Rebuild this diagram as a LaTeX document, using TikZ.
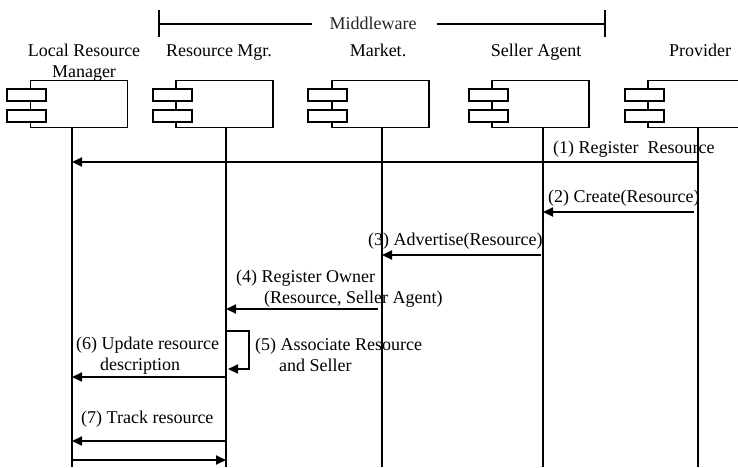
\documentclass[tikz,border=0pt]{standalone}
\usepackage{fontspec}
\setmainfont{Liberation Serif}
\usetikzlibrary{arrows.meta}
\begin{document}
\begin{tikzpicture}[x=1pt,y=-1pt,
  comp/.style={draw, line width=1.2pt, minimum width=97pt, minimum height=47pt, inner sep=0pt},
  port/.style={draw, line width=1.2pt, fill=white, minimum width=39pt, minimum height=12pt, inner sep=0pt},
  life/.style={line width=1.6pt},
  msg/.style={line width=2pt, -{Triangle[length=10pt,width=9pt]}},
  lbl/.style={font=\fontsize{18}{21}\selectfont, inner sep=0pt, align=left},
  hdr/.style={font=\fontsize{18}{21}\selectfont, align=center, inner sep=0pt}]
\useasboundingbox (0,0) rectangle (738,467);

% Middleware bracket
\node[font=\fontsize{18}{21}\selectfont, inner sep=0pt, anchor=base, text=black!85] (mw) at (373,29) {Middleware};
\coordinate (mwL) at (159,24);
\coordinate (mwR) at (605,24);
\draw[line width=1.3pt] (159,10) -- (159,37);
\draw[line width=1.3pt] (605,10) -- (605,37);
\draw[line width=1.3pt] (mwL) -- ([xshift=-17pt]mw.west |- mwL);
\draw[line width=1.3pt] ([xshift=20pt]mw.east |- mwR) -- (mwR);

% headers
\node[hdr, anchor=base] (hLRM) at (84,77) {Local Resource\\Manager};
\node[hdr, anchor=base] (hRM) at (219,56) {Resource Mgr.};
\node[hdr, anchor=base] (hMK) at (378,56) {Market.};
\node[hdr, anchor=base] (hSA) at (536,56) {Seller Agent};
\node[hdr, anchor=base] (hPR) at (700,56) {Provider};

% components
\node[comp] (cLRM) at (79,104) {};
\node[port] (pLRM1) at (26.5,95) {};
\node[port] (pLRM2) at (26.5,116) {};
\node[comp] (cRM) at (224.5,104) {};
\node[port] (pRM1) at (172.5,95) {};
\node[port] (pRM2) at (172.5,116) {};
\node[comp] (cMK) at (380.5,104) {};
\node[port] (pMK1) at (327.5,95) {};
\node[port] (pMK2) at (327.5,116) {};
\node[comp] (cSA) at (540.5,104) {};
\node[port] (pSA1) at (488.5,95) {};
\node[port] (pSA2) at (488.5,116) {};
\node[comp] (cPR) at (696.5,104) {};
\node[port] (pPR1) at (644.5,95) {};
\node[port] (pPR2) at (644.5,116) {};

% lifelines
\coordinate (lLRM) at (72,127.5);
\coordinate (lRM) at (226,127.5);
\coordinate (lMK) at (382,127.5);
\coordinate (lSA) at (543,127.5);
\coordinate (lPR) at (698,127.5);
\foreach \n in {LRM,RM,MK,SA,PR} {
  \coordinate (b\n) at (l\n |- 0,467);
  \draw[life] (l\n) -- (b\n);
}

% messages
\coordinate (m1s) at (698,162); \coordinate (m1e) at (72,162);
\draw[msg] (m1s) -- (m1e);
\node[lbl, anchor=base west] (t1) at (553,153) {(1) Register\ \ Resource};

\coordinate (m2s) at (694,212); \coordinate (m2e) at (543,212);
\draw[msg] (m2s) -- (m2e);
\node[lbl, anchor=base west] (t2) at (548,202) {(2) Create(Resource)};

\coordinate (m3s) at (541,255); \coordinate (m3e) at (382,255);
\draw[msg] (m3s) -- (m3e);
\node[lbl, anchor=base west] (t3) at (368,245) {(3) Advertise(Resource)};

\coordinate (m4s) at (378,309); \coordinate (m4e) at (226,309);
\draw[msg] (m4s) -- (m4e);
\node[lbl, anchor=base west] (t4) at (236,303) {(4) Register Owner\\\hspace*{28pt}(Resource, Seller Agent)};

\coordinate (m5s) at (227,331); \coordinate (m5e) at (228,369);
\draw[msg] (m5s) -- (249,331) -- (249,369) -- (m5e);
\node[lbl, anchor=base west] (t5) at (255,371) {(5) Associate Resource\\\hspace*{24pt}and Seller};

\coordinate (m6s) at (226,377); \coordinate (m6e) at (72,377);
\draw[msg] (m6s) -- (m6e);
\node[lbl, anchor=base west] (t6) at (76,370) {(6) Update resource\\\hspace*{24pt}description};

\coordinate (m7s) at (226,441); \coordinate (m7e) at (72,441);
\draw[msg] (m7s) -- (m7e);
\node[lbl, anchor=base west] (t7) at (81,423) {(7) Track resource};

\coordinate (m8s) at (72,460); \coordinate (m8e) at (226,460);
\draw[msg] (m8s) -- (m8e);
\end{tikzpicture}
\end{document}
